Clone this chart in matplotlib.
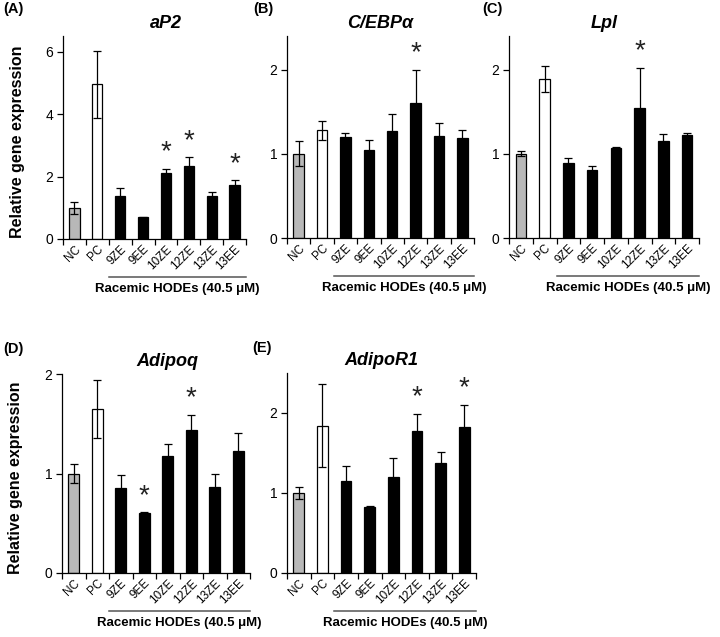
import numpy as np
import matplotlib
matplotlib.use('Agg')
import matplotlib.pyplot as plt
import matplotlib.transforms as mtransforms

plt.rcParams['font.family'] = ['Liberation Sans', 'DejaVu Sans']

categories = ['NC', 'PC', '9ZE', '9EE', '10ZE', '12ZE', '13ZE', '13EE']
group_label = 'Racemic HODEs (40.5 \u03bcM)'
ylabel = 'Relative gene expression'

# mean and SD
ap2_mean = [1.00, 4.95, 1.39, 0.70, 2.10, 2.34, 1.38, 1.72]
ap2_err = [0.19, 1.07, 0.23, 0.02, 0.15, 0.27, 0.14, 0.16]
ap2_sig = [4, 5, 7]

cebpa_mean = [1.00, 1.28, 1.20, 1.05, 1.27, 1.60, 1.21, 1.19]
cebpa_err = [0.15, 0.11, 0.05, 0.12, 0.20, 0.40, 0.16, 0.09]
cebpa_sig = [5]

lpl_mean = [1.00, 1.89, 0.895, 0.81, 1.065, 1.54, 1.15, 1.22]
lpl_err = [0.03, 0.15, 0.055, 0.04, 0.02, 0.48, 0.09, 0.03]
lpl_sig = [5]

adipoq_mean = [1.00, 1.65, 0.855, 0.60, 1.18, 1.44, 0.865, 1.23]
adipoq_err = [0.10, 0.29, 0.13, 0.01, 0.12, 0.15, 0.135, 0.18]
adipoq_sig = [3, 5]

adipor1_mean = [1.00, 1.84, 1.15, 0.82, 1.20, 1.78, 1.38, 1.83]
adipor1_err = [0.08, 0.52, 0.19, 0.02, 0.24, 0.21, 0.13, 0.27]
adipor1_sig = [5, 7]

bar_colors = ['#b8b8b8', 'white'] + ['black'] * 6


def draw_panel(fig, rect, tag, tag_pos, title, title_x, mean, err, sig, ymax, yticks, show_ylabel):
    ax = fig.add_axes(rect)
    x = np.arange(len(categories))
    ax.bar(x, mean, width=0.45, color=bar_colors, edgecolor='black', linewidth=0.9, zorder=2)
    ax.errorbar(x, mean, yerr=err, fmt='none', ecolor='black', elinewidth=0.9,
                capsize=3, capthick=0.9, zorder=3)
    for i in sig:
        ax.annotate('*', xy=(i, mean[i] + err[i]), xytext=(0, 2.5), textcoords='offset points',
                    ha='center', va='bottom', fontsize=20, color='#222222')

    ax.set_xlim(-0.5, 7.5)
    ax.set_ylim(0, ymax)
    ax.set_yticks(yticks)
    ax.set_xticks(np.arange(-0.5, 8, 1), minor=True)
    ax.set_xticks(x, categories)
    ax.tick_params(axis='x', which='major', length=0, pad=3, labelsize=8.5, labelrotation=45)
    ax.tick_params(axis='x', which='minor', length=4, width=0.9, direction='out')
    ax.tick_params(axis='y', length=4, width=0.9, labelsize=10, pad=3)
    plt.setp(ax.get_xticklabels(), ha='right', rotation_mode='anchor')
    for s in ['top', 'right']:
        ax.spines[s].set_visible(False)
    for s in ['left', 'bottom']:
        ax.spines[s].set_linewidth(0.9)

    ax.set_title(title, fontsize=13, fontweight='bold', fontstyle='italic', pad=6, x=title_x)
    if show_ylabel:
        ax.set_ylabel(ylabel, fontsize=11.5, fontweight='bold')
        ax.yaxis.set_label_coords(-0.21, 0.48)

    trans = mtransforms.blended_transform_factory(ax.transData, ax.transAxes)
    line_tr = mtransforms.offset_copy(trans, fig=fig, y=-38, units='dots')
    text_tr = mtransforms.offset_copy(trans, fig=fig, y=-50, units='dots')
    ax.plot([1.5, 7.5], [0, 0], color='#555555', linewidth=1.1, transform=line_tr, clip_on=False)
    ax.text(4.5, 0, group_label, transform=text_tr, ha='center', va='center',
            fontsize=9.5, fontweight='bold')

    fig.text(tag_pos[0] / 720, 1 - tag_pos[1] / 637, tag, ha='left', va='top',
             fontsize=10.5, fontweight='bold')
    return ax


def main():
    fig = plt.figure(figsize=(7.2, 6.37), dpi=100)

    draw_panel(fig, [63 / 720, 1 - 239 / 637, 183 / 720, 203 / 637], '(A)', (3, 2),
               'aP2', 0.56, ap2_mean, ap2_err, ap2_sig, 6.5, [0, 2, 4, 6], True)
    draw_panel(fig, [287 / 720, 1 - 238 / 637, 187 / 720, 202 / 637], '(B)', (253, 2),
               'C/EBP\u03b1', 0.5, cebpa_mean, cebpa_err, cebpa_sig, 2.4, [0, 1, 2], False)
    draw_panel(fig, [509 / 720, 1 - 238 / 637, 190 / 720, 202 / 637], '(C)', (482, 2),
               'Lpl', 0.5, lpl_mean, lpl_err, lpl_sig, 2.4, [0, 1, 2], False)
    draw_panel(fig, [62 / 720, 1 - 573 / 637, 188 / 720, 199 / 637], '(D)', (3, 342),
               'Adipoq', 0.56, adipoq_mean, adipoq_err, adipoq_sig, 2.0, [0, 1, 2], True)
    draw_panel(fig, [287 / 720, 1 - 573 / 637, 189 / 720, 200 / 637], '(E)', (252, 341),
               'AdipoR1', 0.5, adipor1_mean, adipor1_err, adipor1_sig, 2.5, [0, 1, 2], False)

    fig.savefig('out.png', dpi=100)


if __name__ == "__main__":
    main()
